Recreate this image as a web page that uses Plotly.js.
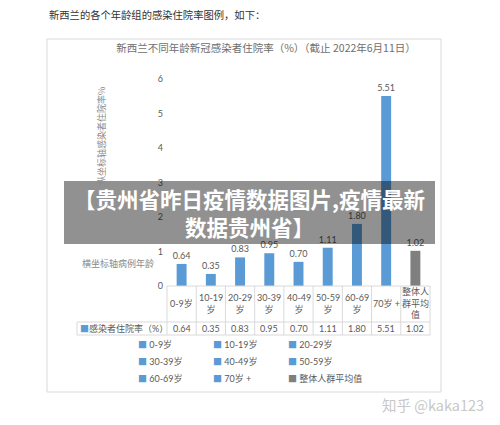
<!DOCTYPE html>
<html><head><meta charset="utf-8">
<script src="https://cdn.plot.ly/plotly-3.0.1.min.js"></script>
<style>html,body{margin:0;padding:0;background:#fff}#chart{width:500px;height:425px}</style>
</head><body><div id="chart"></div>
<script>
// ---- data ----
const categories = ['0-9岁','10-19岁','20-29岁','30-39岁','40-49岁','50-59岁','60-69岁','70岁 +','整体人群平均值'];
const headerLabels = ['0-9岁','10-19<br>岁','20-29<br>岁','30-39<br>岁','40-49<br>岁','50-59<br>岁','60-69<br>岁','70岁 +','整体人<br>群平均<br>值'];
const rates = [0.64,0.35,0.83,0.95,0.70,1.11,1.80,5.51,1.02];
const seriesName = '感染者住院率（%）';
const chartTitle = '新西兰不同年龄新冠感染者住院率（%）（截止 2022年6月11日）';
const pageText = '新西兰的各个年龄组的感染住院率图例，如下：';
const yTitle = '纵坐标轴感染者住院率%';
const xTitle = '横坐标轴病例年龄';
const bannerText = '【贵州省昨日疫情数据图片,疫情最新<br>数据贵州省】';
const watermark = '知乎 @kaka123';

// ---- styles ----
const BLUE = '#5B9BD5', GRAY = '#7F7F7F', TXT = '#595959', GRID = '#D9D9D9';
const FONT = 'Lato, "Noto Sans CJK SC", sans-serif';
const colors = categories.map((c, i) => i === categories.length - 1 ? GRAY : BLUE);

const L = 167, R = 430, T = 79, B = 286;
const fx = p => (p - L) / (R - L);
const fy = p => (B - p) / (B - T);

const shapes = [];
const line = (x0, y0, x1, y1, extra) => Object.assign({type:'line', xref:'paper', yref:'paper', x0, y0, x1, y1, line:{color:GRID, width:1}}, extra||{});
// outer chart frame
shapes.push({type:'rect', xref:'paper', yref:'paper', x0:fx(47), x1:fx(441), y0:fy(39), y1:fy(392), line:{color:GRID, width:1}, layer:'below'});
// data table grid
shapes.push(line(0, fy(286), 1, fy(286)));
shapes.push(line(fx(77), fy(322), 1, fy(322)));
shapes.push(line(fx(77), fy(335), 1, fy(335)));
for (let i = 0; i <= categories.length; i++) {
  shapes.push(line(i / categories.length, fy(286), i / categories.length, fy(335)));
}
shapes.push(line(fx(77), fy(322), fx(77), fy(335)));
// overlay banner
shapes.push({type:'rect', xref:'paper', yref:'paper', x0:fx(64), x1:fx(435), y0:fy(181), y1:fy(244), fillcolor:'rgba(0,0,0,0.43)', line:{width:0}, layer:'above'});

const ann = [];
const A = (o) => ann.push(Object.assign({showarrow:false, xref:'paper', yref:'paper', font:{family:FONT, size:9, color:TXT}}, o));
A({x:fx(47), y:fy(15), xanchor:'left', yanchor:'middle', text:pageText, font:{family:'"Noto Sans CJK SC", sans-serif', size:10.3, color:'#333'}});
A({x:fx(101), y:fy(136), xanchor:'center', yanchor:'middle', textangle:-90, text:yTitle, font:{family:'"Noto Sans CJK SC", sans-serif', size:9, color:'#8a8a8a'}});
A({x:fx(80), y:fy(263), xanchor:'left', yanchor:'middle', text:xTitle, font:{family:'"Noto Sans CJK SC", sans-serif', size:9, color:'#8a8a8a'}});
headerLabels.forEach((t, i) => A({xref:'x', x:i, y:fy(303), xanchor:'center', yanchor:'middle', text:t}));
rates.forEach((v, i) => A({xref:'x', x:i, y:fy(328.5), xanchor:'center', yanchor:'middle', text:v.toFixed(2)}));
A({x:fx(78), y:fy(328.5), xanchor:'left', yanchor:'middle', text:'<span style="color:'+BLUE+'">■</span>' + seriesName});
// legend (3 columns)
const legX = [136, 211, 286], legY = [344, 361, 378];
categories.forEach((c, i) => A({x:fx(legX[i % 3]), y:fy(legY[Math.floor(i / 3)]), xanchor:'left', yanchor:'middle',
  text:'<span style="color:' + colors[i] + '">■</span> ' + c}));
// banner text
A({x:fx(249), y:fy(212.5), xanchor:'center', yanchor:'middle', align:'center', text:'<b>' + bannerText + '</b>',
  font:{family:'"Noto Sans CJK SC", sans-serif', size:21.5, color:'#ffffff'}});
// watermark
A({x:fx(380), y:fy(404), xanchor:'left', yanchor:'middle', text:watermark, font:{family:'"Noto Sans CJK SC", sans-serif', size:14.5, color:'#c8c8c8'}});

const trace = {
  type:'bar', x:categories, y:rates, width:0.34,
  marker:{color:colors}, name:seriesName,
  texttemplate:'%{y:.2f}', textposition:'outside', constraintext:'none', cliponaxis:false,
  textfont:{family:FONT, size:9, color:TXT}, hoverinfo:'skip', showlegend:false
};

const layout = {
  width:500, height:425,
  margin:{l:L, r:500 - R, t:T, b:425 - B, pad:0},
  paper_bgcolor:'#fff', plot_bgcolor:'rgba(0,0,0,0)',
  font:{family:FONT, color:TXT},
  showlegend:false,
  title:{text:chartTitle, x:266/500, xref:'container', xanchor:'center', y:1 - 48/425, yref:'container', yanchor:'middle',
    font:{family:'"Noto Sans CJK SC", sans-serif', size:10.5, color:'#6e6e6e'}},
  xaxis:{type:'category', range:[-0.5, categories.length - 0.5], showticklabels:false, showgrid:false, zeroline:false, showline:false, ticks:'', fixedrange:true},
  yaxis:{range:[0, 6], dtick:1, showgrid:false, zeroline:false, showline:false, ticks:'', ticklabelstandoff:3,
    tickfont:{family:FONT, size:9, color:TXT}, fixedrange:true},
  shapes, annotations:ann
};
Plotly.newPlot('chart', [trace], layout, {displayModeBar:false, staticPlot:true});
</script></body></html>
